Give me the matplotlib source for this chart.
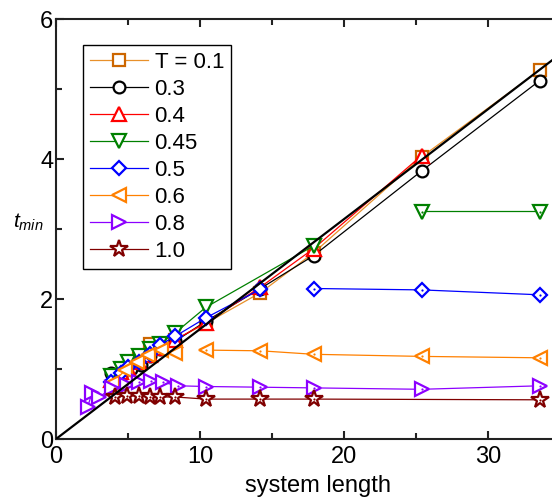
import numpy as np
import matplotlib
matplotlib.use("Agg")
import matplotlib.pyplot as plt

plt.rcParams['font.family'] = ['Liberation Sans', 'DejaVu Sans']
plt.rcParams['mathtext.fontset'] = 'custom'
plt.rcParams['mathtext.it'] = 'Liberation Sans:italic'
plt.rcParams['mathtext.rm'] = 'Liberation Sans'

nan = np.nan

# system length / t_min per temperature (nan = break in the line)
L_01 = [4.2, 5.0, 5.8, 6.5, 7.2, 8.3, 10.4, 14.2, 17.9, 25.4, 33.6]
t_01 = [0.88, 1.02, 1.15, 1.36, 1.3, 1.42, 1.65, 2.09, 2.66, 4.03, 5.27]

L_03 = [3.8, 4.5, 5.2, 5.9, 6.5, 7.2, 8.3, 10.4, 14.2, 17.9, 25.4, 33.6]
t_03 = [0.94, 0.9, 1.0, 1.06, 1.18, 1.28, 1.4, 1.68, 2.15, 2.62, 3.83, 5.12]

L_04 = [3.8, 4.5, 5.0, 5.8, 6.5, 7.2, 8.3, 10.4, 14.2, 17.9, 25.4]
t_04 = [0.85, 0.96, 1.02, 1.1, 1.2, 1.3, 1.42, 1.66, 2.17, 2.72, 4.05]

L_045 = [3.8, 4.5, 5.0, 5.8, 6.5, 7.2, 8.3, 10.4, 17.9, nan, 25.4, 33.6]
t_045 = [0.9, 1.0, 1.1, 1.18, 1.28, 1.36, 1.52, 1.88, 2.76, nan, 3.25, 3.25]

L_05 = [3.8, 4.5, 5.0, 5.8, 6.5, 7.2, 8.3, 10.4, 14.2, nan, 17.9, 25.4, 33.6]
t_05 = [0.82, 0.95, 1.03, 1.1, 1.22, 1.34, 1.47, 1.73, 2.14, nan, 2.15, 2.13, 2.06]

L_06 = [3.9, 4.8, 5.6, 6.4, 7.3, 8.3, nan, 10.4, 14.2, 17.9, 25.4, 33.6]
t_06 = [0.8, 0.98, 1.1, 1.2, 1.27, 1.23, nan, 1.27, 1.26, 1.21, 1.18, 1.16]

L_08 = [2.2, 2.5, 3.0, 3.9, 4.9, 5.8, 6.6, 7.4, 8.5, 10.4, 14.2, 17.9, 25.4, 33.6]
t_08 = [0.46, 0.66, 0.6, 0.73, 0.77, 0.81, 0.83, 0.81, 0.76, 0.75, 0.74, 0.73, 0.71, 0.76]

L_10 = [4.1, 4.9, 5.8, 6.5, 7.2, 8.3, 10.4, 14.2, 17.9, 33.6]
t_10 = [0.6, 0.62, 0.62, 0.6, 0.6, 0.6, 0.57, 0.57, 0.57, 0.56]

labels = ['T = 0.1', '0.3', '0.4', '0.45', '0.5', '0.6', '0.8', '1.0']
slope = 0.157
line_x = [0, 40]

# (x, y, marker, marker colour, line colour, marker size, first dotted index)
series = [
    (L_01, t_01, 's', '#cc6600', '#e8902a', 8, None),
    (L_03, t_03, 'o', 'black', 'black', 8.5, None),
    (L_04, t_04, '^', '#ff0000', '#ff0000', 10, None),
    (L_045, t_045, 'v', '#008000', '#008000', 10, 10),
    (L_05, t_05, 'D', '#0000ff', '#0000ff', 7.5, 10),
    (L_06, t_06, '<', '#ff8000', '#ff8000', 10, 7),
    (L_08, t_08, '>', '#8c00ff', '#8c00ff', 10, 4),
    (L_10, t_10, '*', '#800000', '#800000', 13, 0),
]

fig = plt.figure(figsize=(5.52, 4.99), dpi=100)
ax = fig.add_axes([56 / 552, 60 / 499, 524 / 552, 420 / 499])

for (x, y, m, mc, lc, ms, d0), lab in zip(series, labels):
    ax.plot(x, y, color=lc, lw=0.9, marker=m, ms=ms, mec=mc, mfc='white',
            mew=1.6, label=lab, zorder=3)
    if d0 is not None:
        ax.plot(x[d0:], y[d0:], ls='none', marker='o', ms=1.6, mfc=mc,
                mec=mc, mew=0, zorder=3.5)

ax.plot(line_x, [slope * v for v in line_x], color='black', lw=1.6, zorder=4)

ax.set_xlim(0, 36.4)
ax.set_ylim(0, 6)
ax.set_xticks([0, 10, 20, 30])
ax.set_xticks([5, 15, 25, 35], minor=True)
ax.set_yticks([0, 2, 4, 6])
ax.set_yticks([1, 3, 5], minor=True)
ax.tick_params(which='both', direction='in', top=True, right=False,
               width=1.5, color='#222222', labelsize=17)
ax.tick_params(which='major', length=6)
ax.tick_params(which='minor', length=4)
ax.tick_params(axis='x', pad=5)
ax.tick_params(axis='y', pad=2)
for s in ['left', 'bottom', 'top']:
    ax.spines[s].set_linewidth(1.5)
    ax.spines[s].set_color('#222222')
ax.spines['right'].set_visible(False)

ax.set_xlabel('system length', fontsize=17, labelpad=5)
ax.set_ylabel(r'$t_{min}$', fontsize=15, rotation=0, va='center', ha='center')
ax.yaxis.set_label_coords(-0.052, 0.515)

leg = ax.legend(loc='upper left', bbox_to_anchor=(83 / 552, 1 - 45 / 499),
                bbox_transform=fig.transFigure, borderaxespad=0,
                fontsize=16, handlelength=2.6, handletextpad=0.3,
                labelspacing=0.27, borderpad=0.32, fancybox=False,
                framealpha=1, edgecolor='black')
leg.get_frame().set_linewidth(1.0)

fig.savefig('out.png', dpi=100)
